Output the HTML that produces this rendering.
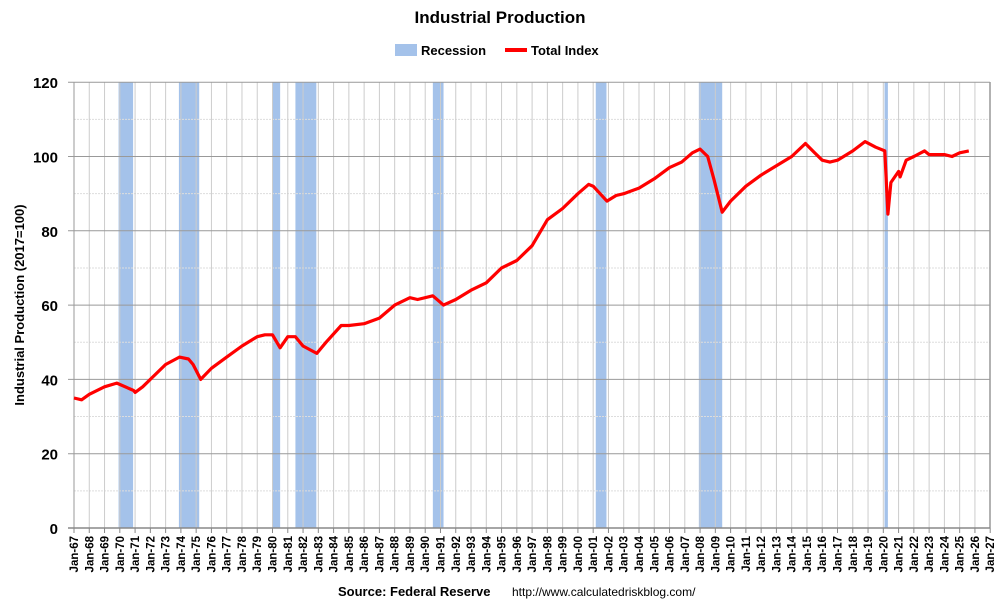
<!DOCTYPE html><html><head><meta charset="utf-8"><style>body{margin:0;background:#fff}svg{font-family:"Liberation Sans",Arial,sans-serif}</style></head><body>
<svg id="s" width="1000" height="608" xmlns="http://www.w3.org/2000/svg">
<text x="500" y="23" text-anchor="middle" font-size="17" font-weight="bold">Industrial Production</text>
<rect x="395" y="44" width="22" height="12" fill="#a4c2ea"/><text x="421" y="55" font-size="13" font-weight="bold">Recession</text>
<line x1="505" y1="50" x2="527" y2="50" stroke="#f00" stroke-width="4"/><text x="531" y="55" font-size="13" font-weight="bold">Total Index</text>
<text transform="translate(24,305) rotate(-90)" text-anchor="middle" font-size="13" font-weight="bold">Industrial Production (2017=100)</text>
<text x="338" y="596" font-size="13" font-weight="bold">Source: Federal Reserve</text><text x="512" y="596" font-size="12">http://www.calculatedriskblog.com/</text>
<g id="g"></g>
</svg>
<script>
var g=document.getElementById('g'),h='';
function X(y){return 74+(y-1967)*15.27}function Y(v){return 528-v*3.715}
[[1969.92,1970.87],[1973.87,1975.2],[1980,1980.5],[1981.5,1982.87],[1990.5,1991.2],[2001.17,2001.87],[2007.92,2009.45],[2020.08,2020.3]].forEach(function(r){h+='<rect x="'+X(r[0])+'" y="82" width="'+(X(r[1])-X(r[0]))+'" height="446" fill="#a4c2ea"/>'});
for(var v=10;v<120;v+=20)h+='<line x1="74" x2="990" y1="'+Y(v)+'" y2="'+Y(v)+'" stroke="#ddd" stroke-dasharray="2,1"/>';
for(var y=1968;y<=2026;y++)h+='<line x1="'+X(y)+'" x2="'+X(y)+'" y1="82" y2="528" stroke="#ccc"/>';
for(var v=20;v<=120;v+=20)h+='<line x1="68" x2="990" y1="'+Y(v)+'" y2="'+Y(v)+'" stroke="#999"/>';
for(var v=0;v<=120;v+=20)h+='<text x="58" y="'+(Y(v)+6)+'" text-anchor="end" font-size="15" font-weight="bold">'+v+'</text>';
h+='<line x1="990" x2="990" y1="82" y2="528" stroke="#999" stroke-width="1.5"/><line x1="74" x2="74" y1="82" y2="528" stroke="#999"/><line x1="68" x2="990" y1="528" y2="528" stroke="#888" stroke-width="1.5"/>';
for(var y=1967;y<=2027;y++){var x=X(y);h+='<line x1="'+x+'" x2="'+x+'" y1="528" y2="533" stroke="#888"/><text transform="translate('+(x+4)+',536) rotate(-90)" text-anchor="end" font-size="11.5" font-weight="bold">Jan-'+String(y%100).padStart(2,'0')+'</text>';}
var d=[[1967,35],[1967.5,34.5],[1968,36],[1969,38],[1969.8,39],[1970.9,37],[1971,36.5],[1971.5,38],[1972,40],[1973,44],[1973.9,46],[1974.5,45.5],[1974.8,44],[1975.3,40],[1976,43],[1977,46],[1978,49],[1979,51.5],[1979.5,52],[1980,52],[1980.5,48.5],[1981,51.5],[1981.5,51.5],[1982,49],[1982.9,47],[1983.5,50],[1984.5,54.5],[1985,54.5],[1986,55],[1987,56.5],[1988,60],[1989,62],[1989.5,61.5],[1990.5,62.5],[1991.2,60],[1992,61.5],[1993,64],[1994,66],[1995,70],[1996,72],[1997,76],[1998,83],[1999,86],[2000,90],[2000.7,92.5],[2001,92],[2001.9,88],[2002.5,89.5],[2003,90],[2004,91.5],[2005,94],[2006,97],[2006.8,98.5],[2007.5,101],[2008,102],[2008.5,100],[2008.9,94],[2009.45,85],[2010,88],[2011,92],[2012,95],[2013,97.5],[2014,100],[2014.9,103.5],[2015.5,101],[2016,99],[2016.5,98.5],[2017,99],[2018,101.5],[2018.8,104],[2019.5,102.5],[2020.1,101.5],[2020.3,84.5],[2020.5,93],[2021,96],[2021.1,94.5],[2021.5,99],[2022,100],[2022.7,101.5],[2023,100.5],[2024,100.5],[2024.5,100],[2025,101],[2025.6,101.5]];
h+='<polyline fill="none" stroke="#f00" stroke-width="3.2" stroke-linejoin="round" points="'+d.map(function(p){return X(p[0]).toFixed(1)+','+Y(p[1]).toFixed(1)}).join(' ')+'"/>';
g.innerHTML=h;
</script></body></html>
